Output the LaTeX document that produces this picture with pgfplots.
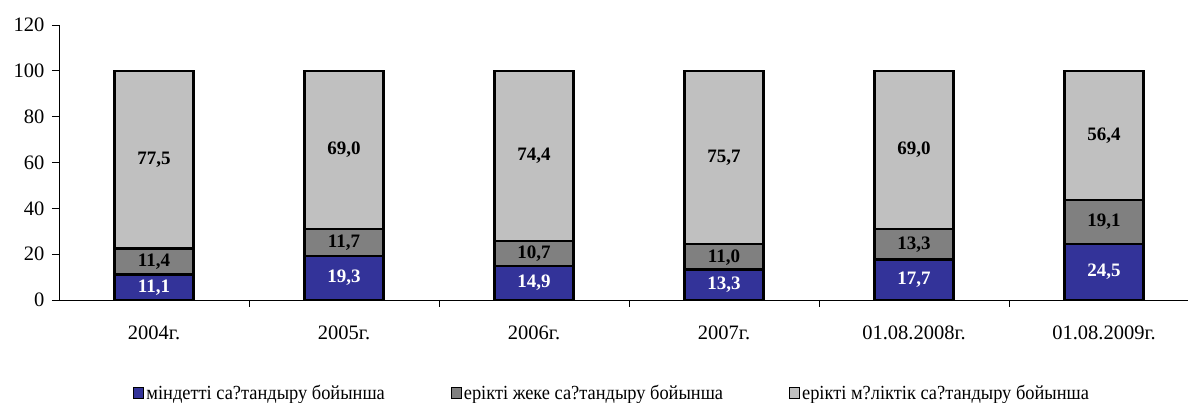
\documentclass[border=0pt]{standalone}
\usepackage{pgfplots}
\pgfplotsset{compat=1.18}
\usepackage{fontspec}
\setmainfont{Liberation Serif}
\newfontfamily\legfont[FakeStretch=0.92]{Liberation Serif}
\definecolor{cblue}{HTML}{333399}
\definecolor{cdark}{HTML}{808080}
\definecolor{clight}{HTML}{C0C0C0}
\pgfplotsset{
  common/.style={scale only axis, width=1129pt, height=275pt,
    xmin=-0.5, xmax=5.442, ymin=0, ymax=120},
  lbl/.style={draw=none, mark=none, forget plot,
    nodes near coords, point meta=explicit symbolic,
    nodes near coords align=center,
    every node near coord/.append style={anchor=center, text=#1,
      font=\bfseries\fontsize{19}{22}\selectfont}},
  barst/.style={fill=#1, draw=black, line width=2.2pt, line join=miter},
}
\begin{document}
\begin{tikzpicture}
\begin{axis}[
  common,
  axis x line=bottom, axis y line=left,
  axis line style={-, line width=0.9pt},
  ybar stacked, bar width=79pt,
  xtick={0,...,5},
  xticklabels={2004г.,2005г.,2006г.,2007г.,01.08.2008г.,01.08.2009г.},
  major x tick style={draw=none},
  minor xtick={0.5,1.5,2.5,3.5,4.5},
  minor x tick style={line width=0.9pt, black},
  minor tick length=7pt, major tick length=7pt, tick align=outside,
  ytick={0,20,...,120},
  major y tick style={line width=0.9pt, black},
  /pgf/number format/assume math mode=true,
  tick label style={font=\fontsize{20.5}{24}\selectfont},
  x tick label style={yshift=-15pt},
  y tick label style={xshift=-4pt},
  legend columns=3,
  legend style={at={(0.490,-0.34)}, anchor=center, draw=none,
    font=\legfont\fontsize{20}{24}\selectfont,
    /tikz/every even column/.append style={column sep=64pt}},
  legend image code/.code={\draw[#1, draw=black, line width=1pt] (0pt,-5pt) rectangle (10pt,6pt);},
  clip=false,
]
\addplot[barst=cblue] coordinates {(0,11.1) (1,19.3) (2,14.9) (3,13.3) (4,17.7) (5,24.5)};
\addlegendentry{міндетті са?тандыру бойынша}
\addplot[barst=cdark] coordinates {(0,11.4) (1,11.7) (2,10.7) (3,11.0) (4,13.3) (5,19.1)};
\addlegendentry{ерікті жеке са?тандыру бойынша}
\addplot[barst=clight] coordinates {(0,77.5) (1,69.0) (2,74.4) (3,75.7) (4,69.0) (5,56.4)};
\addlegendentry{ерікті м?ліктік са?тандыру бойынша}
\end{axis}
\begin{axis}[common, hide axis, clip=false]
% value labels at segment midpoints
\addplot[lbl=white] coordinates {(0,5.55)[11,1] (1,9.65)[19,3] (2,7.45)[14,9] (3,6.65)[13,3] (4,8.85)[17,7] (5,12.25)[24,5]};
\addplot[lbl=black] coordinates {(0,16.8)[11,4] (1,25.15)[11,7] (2,20.3)[10,7] (3,18.45)[11,0] (4,24.35)[13,3] (5,34.05)[19,1]};
\addplot[lbl=black] coordinates {(0,61.25)[77,5] (1,65.5)[69,0] (2,62.8)[74,4] (3,62.15)[75,7] (4,65.5)[69,0] (5,71.8)[56,4]};
\end{axis}
\pgfresetboundingbox
\path (-59pt,-103pt) rectangle (1129pt,300pt);
\end{tikzpicture}
\end{document}
